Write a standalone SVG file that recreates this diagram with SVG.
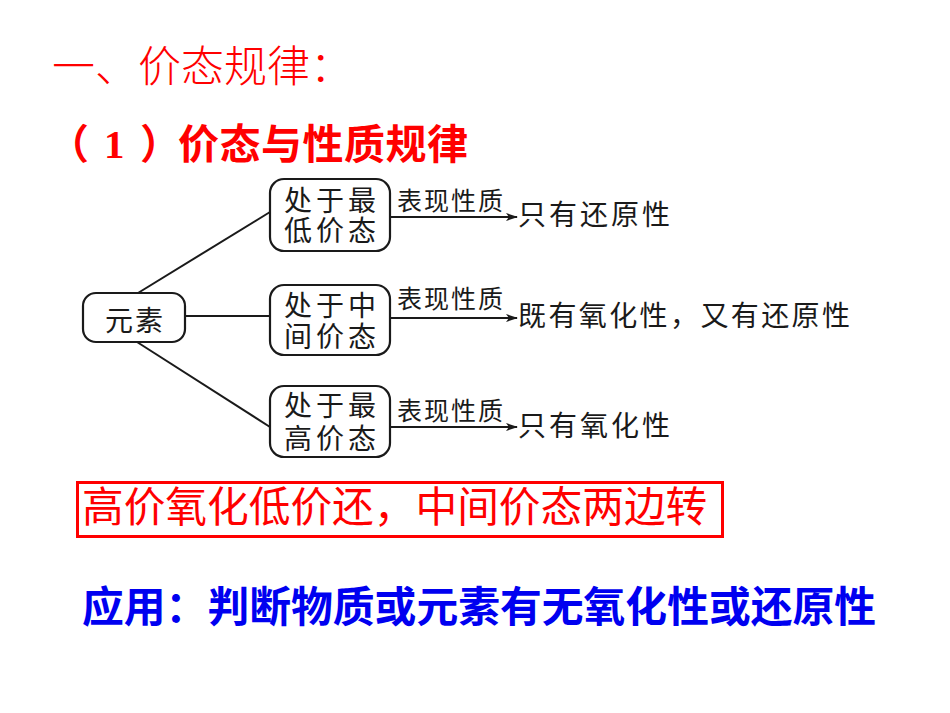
<svg xmlns="http://www.w3.org/2000/svg" width="950" height="713" viewBox="0 0 950 713">
<defs>
<style>
.cjk{font-family:"Noto Sans CJK SC","Noto Sans CJK JP",sans-serif;}
.red{fill:#FF0000;}
.blue{fill:#0000F0;}
.dk{fill:#1a1a1a;}
.box{fill:#ffffff;stroke:#1a1a1a;stroke-width:2.2;}
.ln{stroke:#1a1a1a;stroke-width:2;fill:none;}
.nt{font-size:28px;letter-spacing:4px;}
.lb{font-size:25px;letter-spacing:2px;}
.rs{font-size:28px;letter-spacing:3px;}
</style>
<marker id="arr" viewBox="0 0 12 8" refX="11" refY="4" markerWidth="12" markerHeight="8" markerUnits="userSpaceOnUse" orient="auto">
<path d="M0,0 L12,4 L0,8 L3,4 Z" fill="#1a1a1a"/>
</marker>
</defs>
<rect width="950" height="713" fill="#ffffff"/>

<g id="title">
<text class="cjk red" x="52" y="82" font-size="43" font-weight="300">一、价态规律：</text>
</g>
<g id="subtitle">
<text class="cjk red" x="48" y="159" font-size="41" font-weight="bold">（</text>
<text class="red" x="104" y="158" font-size="41" font-weight="bold" font-family="Liberation Serif, serif">1</text>
<text class="cjk red" x="140" y="159" font-size="41" font-weight="bold">）</text>
<text class="cjk red" x="178" y="159" font-size="41" font-weight="bold" letter-spacing="0.5">价态与性质规律</text>
</g>

<g id="connectors">
<line class="ln" x1="138" y1="293" x2="270" y2="212"/>
<line class="ln" x1="185" y1="316" x2="270" y2="316"/>
<line class="ln" x1="137" y1="342" x2="270" y2="427"/>
<line class="ln" x1="390" y1="217" x2="517" y2="217" marker-end="url(#arr)"/>
<line class="ln" x1="390" y1="318" x2="517" y2="318" marker-end="url(#arr)"/>
<line class="ln" x1="390" y1="427" x2="517" y2="427" marker-end="url(#arr)"/>
<text class="cjk dk lb" x="397" y="210">表现性质</text>
<text class="cjk dk lb" x="397" y="308">表现性质</text>
<text class="cjk dk lb" x="397" y="420">表现性质</text>
</g>

<g id="node-element">
<rect class="box" x="83" y="293" width="102" height="49" rx="13"/>
<text class="cjk dk" x="105" y="331" font-size="28" letter-spacing="2">元素</text>
</g>
<g id="node-lowest">
<rect class="box" x="270" y="179" width="120" height="72" rx="14"/>
<text class="cjk dk nt"><tspan x="284" y="211">处于最</tspan><tspan x="284" y="241">低价态</tspan></text>
</g>
<g id="node-middle">
<rect class="box" x="270" y="285" width="120" height="70" rx="14"/>
<text class="cjk dk nt"><tspan x="284" y="316">处于中</tspan><tspan x="284" y="347">间价态</tspan></text>
</g>
<g id="node-highest">
<rect class="box" x="270" y="386" width="120" height="71" rx="14"/>
<text class="cjk dk nt"><tspan x="284" y="416">处于最</tspan><tspan x="284" y="449">高价态</tspan></text>
</g>

<g id="result-reducing">
<text class="cjk dk rs" x="518" y="225">只有还原性</text>
</g>
<g id="result-both">
<text class="cjk dk" x="518" y="326" font-size="28" letter-spacing="2.4">既有氧化性，又有还原性</text>
</g>
<g id="result-oxidizing">
<text class="cjk dk rs" x="518" y="436">只有氧化性</text>
</g>

<g id="rule">
<rect x="77.5" y="482.5" width="645" height="54" fill="none" stroke="#FF0000" stroke-width="3"/>
<text class="cjk red" x="82" y="522" font-size="41.7">高价氧化低价还，中间价态两边转</text>
</g>
<g id="application">
<text class="cjk blue" x="82" y="622" font-size="41.8" font-weight="bold">应用：判断物质或元素有无氧化性或还原性</text>
</g>
</svg>
